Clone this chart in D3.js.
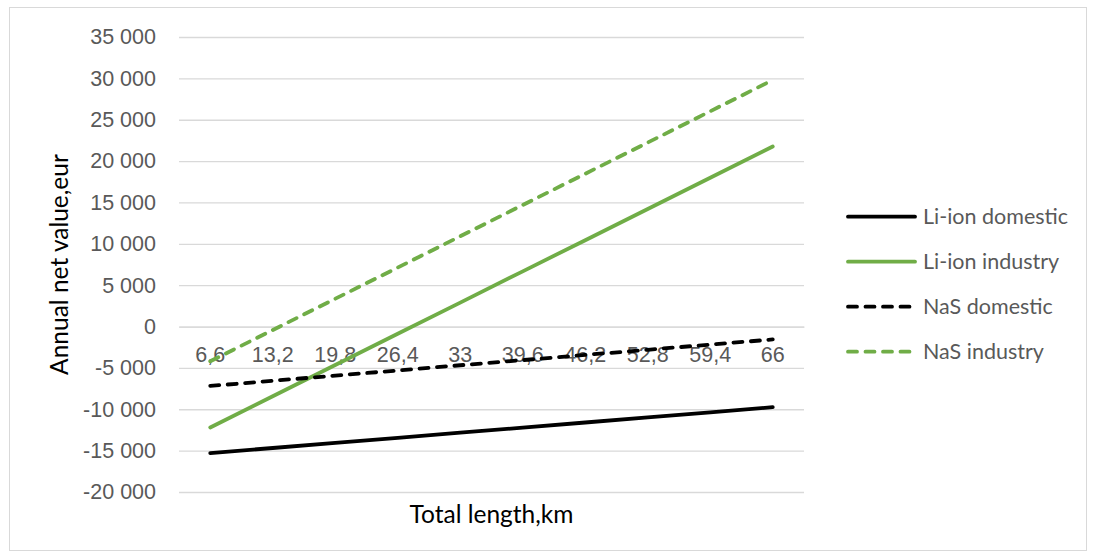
<!DOCTYPE html>
<html>
<head>
<meta charset="utf-8">
<script src="https://cdn.jsdelivr.net/npm/d3@7"></script>
<style>
  html, body { margin: 0; padding: 0; background: #fff; }
  svg { display: block; font-family: Lato, "Noto Sans", sans-serif; }
</style>
</head>
<body>
<svg id="chart" width="1096" height="559"></svg>
<script>
// Total length of line (km) — category labels as shown on the axis
const categories = ["6,6", "13,2", "19,8", "26,4", "33", "39,6", "46,2", "52,8", "59,4", "66"];

// Annual net value (eur) per series
const liIonDomestic = [-15300, -14680, -14070, -13450, -12830, -12220, -11600, -10980, -10370, -9750];
const liIonIndustry = [-12200, -8430, -4650, -880, 2890, 6670, 10440, 14210, 17990, 21760];
const nasDomestic   = [-7180, -6560, -5930, -5310, -4680, -4060, -3430, -2810, -2180, -1560];
const nasIndustry   = [-4200, -420, 3360, 7130, 10910, 14690, 18470, 22240, 26020, 29800];

const yTicks = [-20000, -15000, -10000, -5000, 0, 5000, 10000, 15000, 20000, 25000, 30000, 35000];

const seriesNames = ["Li-ion domestic", "Li-ion industry", "NaS domestic", "NaS industry"];
const seriesValues = [liIonDomestic, liIonIndustry, nasDomestic, nasIndustry];
const seriesColors = ["#000000", "#70ad47", "#000000", "#70ad47"];
const seriesDashed = [false, false, true, true];

const svg = d3.select("#chart");
const plot = { left: 179, right: 804, top: 37, bottom: 492 };

// Outer chart border
svg.append("rect")
  .attr("x", 9.5).attr("y", 7.5)
  .attr("width", 1077).attr("height", 543)
  .attr("fill", "#fff").attr("stroke", "#d9d9d9").attr("stroke-width", 1);

const x = d3.scaleBand().domain(categories).range([plot.left, plot.right]);
const y = d3.scaleLinear().domain([-20000, 35000]).range([plot.bottom, plot.top]);

const locale = d3.formatLocale({ decimal: ",", thousands: " ", grouping: [3], currency: ["", " €"], minus: "-" });
const fmt = locale.format(",d");

// Horizontal gridlines + value labels
const yAxis = d3.axisLeft(y).tickValues(yTicks).tickFormat(fmt)
  .tickSize(-(plot.right - plot.left)).tickPadding(23);
const gy = svg.append("g").attr("transform", `translate(${plot.left},0)`).call(yAxis);
gy.select(".domain").remove();
gy.selectAll(".tick line").attr("stroke", "#d9d9d9").attr("stroke-width", 1.3);
gy.selectAll(".tick text").attr("fill", "#595959").attr("font-size", 21.5);

// Category axis sits on the zero line
const xAxis = d3.axisBottom(x).tickSize(0).tickPadding(20);
const gx = svg.append("g").attr("transform", `translate(0,${y(0)})`).call(xAxis);
gx.select(".domain").attr("stroke", "#d9d9d9").attr("stroke-width", 1.3);
gx.selectAll(".tick text").attr("fill", "#595959").attr("font-size", 21.5);

// Series lines
const line = d3.line()
  .x((d, i) => x(categories[i]) + x.bandwidth() / 2)
  .y(d => y(d));

seriesValues.forEach((vals, k) => {
  svg.append("path")
    .datum(vals)
    .attr("d", line)
    .attr("fill", "none")
    .attr("stroke", seriesColors[k])
    .attr("stroke-width", 3.8)
    .attr("stroke-linecap", "round")
    .attr("stroke-linejoin", "round")
    .attr("stroke-dasharray", seriesDashed[k] ? "9,8.5" : null);
});

// Axis titles
svg.append("text")
  .attr("transform", `translate(68,${(plot.top + plot.bottom) / 2}) rotate(-90)`)
  .attr("text-anchor", "middle")
  .attr("fill", "#000")
  .attr("font-size", 24.5)
  .text("Annual net value,eur");

svg.append("text")
  .attr("x", (plot.left + plot.right) / 2)
  .attr("y", 523)
  .attr("text-anchor", "middle")
  .attr("fill", "#000")
  .attr("font-size", 24.5)
  .text("Total length,km");

// Legend
const legend = svg.append("g");
seriesNames.forEach((name, k) => {
  const ly = 216.7 + k * 45;
  legend.append("line")
    .attr("x1", 848).attr("x2", 915)
    .attr("y1", ly).attr("y2", ly)
    .attr("stroke", seriesColors[k])
    .attr("stroke-width", 3.8)
    .attr("stroke-linecap", "round")
    .attr("stroke-dasharray", seriesDashed[k] ? "9,8.5" : null);
  legend.append("text")
    .attr("x", 923).attr("y", ly)
    .attr("dy", "0.35em")
    .attr("fill", "#595959")
    .attr("font-size", 21.5)
    .text(name);
});
</script>
</body>
</html>
